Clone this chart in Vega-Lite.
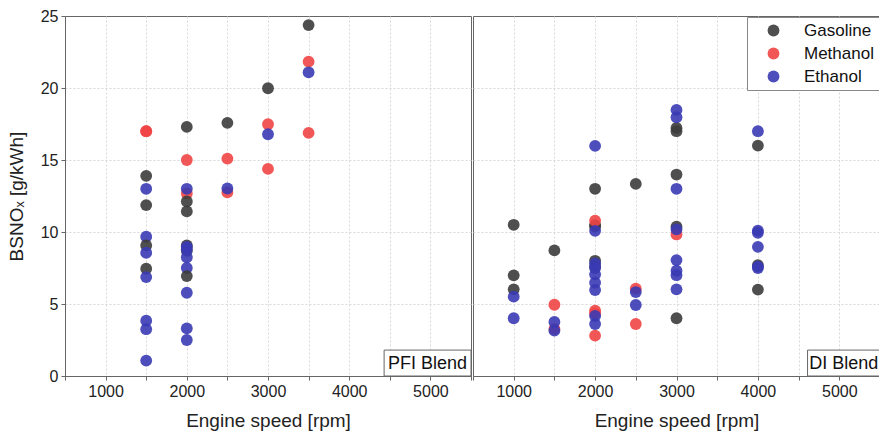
{
  "$schema": "https://vega.github.io/schema/vega-lite/v6.json",
  "padding": {"left": 6, "top": 7, "right": 1, "bottom": 0},
  "background": "white",
  "config": {
    "font": "Liberation Sans",
    "view": {"stroke": "#666", "strokeWidth": 1},
    "concat": {"spacing": 0},
    "axis": {
      "grid": true, "gridColor": "#d8d8d8", "gridDash": [2, 2], "gridWidth": 1,
      "gridOpacity": {"condition": {"test": "datum.value == 25 || datum.value == 500 || datum.value == 5500 || datum.value == 0", "value": 0}, "value": 1},
      "domainColor": "#666", "tickColor": "#666", "tickSize": 4,
      "labelFont": "Liberation Sans", "labelFontSize": 16, "labelColor": "#222",
      "titleFont": "Liberation Sans", "titleFontSize": 19, "titleFontWeight": "normal", "titleColor": "#222"
    }
  },
  "datasets": {
    "pfi": [
      {"rpm": 1500, "nox": 17.0, "fuel": "Methanol"},
      {"rpm": 1500, "nox": 17.0, "fuel": "Methanol"},
      {"rpm": 1500, "nox": 13.9, "fuel": "Gasoline"},
      {"rpm": 1500, "nox": 13.0, "fuel": "Ethanol"},
      {"rpm": 1500, "nox": 11.87, "fuel": "Gasoline"},
      {"rpm": 1500, "nox": 9.67, "fuel": "Ethanol"},
      {"rpm": 1500, "nox": 9.07, "fuel": "Gasoline"},
      {"rpm": 1500, "nox": 8.56, "fuel": "Ethanol"},
      {"rpm": 1500, "nox": 7.45, "fuel": "Gasoline"},
      {"rpm": 1500, "nox": 6.87, "fuel": "Ethanol"},
      {"rpm": 1500, "nox": 3.84, "fuel": "Ethanol"},
      {"rpm": 1500, "nox": 3.25, "fuel": "Ethanol"},
      {"rpm": 1500, "nox": 1.07, "fuel": "Ethanol"},
      {"rpm": 2000, "nox": 17.3, "fuel": "Gasoline"},
      {"rpm": 2000, "nox": 15.0, "fuel": "Methanol"},
      {"rpm": 2000, "nox": 12.68, "fuel": "Methanol"},
      {"rpm": 2000, "nox": 13.0, "fuel": "Ethanol"},
      {"rpm": 2000, "nox": 12.12, "fuel": "Gasoline"},
      {"rpm": 2000, "nox": 11.43, "fuel": "Gasoline"},
      {"rpm": 2000, "nox": 9.07, "fuel": "Gasoline"},
      {"rpm": 2000, "nox": 8.7, "fuel": "Gasoline"},
      {"rpm": 2000, "nox": 8.97, "fuel": "Ethanol"},
      {"rpm": 2000, "nox": 8.8, "fuel": "Ethanol"},
      {"rpm": 2000, "nox": 8.24, "fuel": "Ethanol"},
      {"rpm": 2000, "nox": 7.5, "fuel": "Ethanol"},
      {"rpm": 2000, "nox": 6.94, "fuel": "Gasoline"},
      {"rpm": 2000, "nox": 5.78, "fuel": "Ethanol"},
      {"rpm": 2000, "nox": 3.31, "fuel": "Ethanol"},
      {"rpm": 2000, "nox": 2.5, "fuel": "Ethanol"},
      {"rpm": 2500, "nox": 17.58, "fuel": "Gasoline"},
      {"rpm": 2500, "nox": 15.1, "fuel": "Methanol"},
      {"rpm": 2500, "nox": 12.75, "fuel": "Methanol"},
      {"rpm": 2500, "nox": 13.02, "fuel": "Ethanol"},
      {"rpm": 3000, "nox": 19.98, "fuel": "Gasoline"},
      {"rpm": 3000, "nox": 17.48, "fuel": "Methanol"},
      {"rpm": 3000, "nox": 14.38, "fuel": "Methanol"},
      {"rpm": 3000, "nox": 16.79, "fuel": "Ethanol"},
      {"rpm": 3500, "nox": 24.37, "fuel": "Gasoline"},
      {"rpm": 3500, "nox": 21.83, "fuel": "Methanol"},
      {"rpm": 3500, "nox": 16.88, "fuel": "Methanol"},
      {"rpm": 3500, "nox": 21.09, "fuel": "Ethanol"}
    ],
    "di": [
      {"rpm": 1000, "nox": 10.5, "fuel": "Gasoline"},
      {"rpm": 1000, "nox": 6.99, "fuel": "Gasoline"},
      {"rpm": 1000, "nox": 6.02, "fuel": "Gasoline"},
      {"rpm": 1000, "nox": 5.51, "fuel": "Ethanol"},
      {"rpm": 1000, "nox": 4.01, "fuel": "Ethanol"},
      {"rpm": 1500, "nox": 8.72, "fuel": "Gasoline"},
      {"rpm": 1500, "nox": 4.95, "fuel": "Methanol"},
      {"rpm": 1500, "nox": 3.27, "fuel": "Methanol"},
      {"rpm": 1500, "nox": 3.75, "fuel": "Ethanol"},
      {"rpm": 1500, "nox": 3.15, "fuel": "Ethanol"},
      {"rpm": 2000, "nox": 13.0, "fuel": "Gasoline"},
      {"rpm": 2000, "nox": 10.48, "fuel": "Gasoline"},
      {"rpm": 2000, "nox": 10.37, "fuel": "Gasoline"},
      {"rpm": 2000, "nox": 8.0, "fuel": "Gasoline"},
      {"rpm": 2000, "nox": 7.59, "fuel": "Gasoline"},
      {"rpm": 2000, "nox": 10.78, "fuel": "Methanol"},
      {"rpm": 2000, "nox": 4.54, "fuel": "Methanol"},
      {"rpm": 2000, "nox": 4.35, "fuel": "Methanol"},
      {"rpm": 2000, "nox": 2.8, "fuel": "Methanol"},
      {"rpm": 2000, "nox": 15.98, "fuel": "Ethanol"},
      {"rpm": 2000, "nox": 10.08, "fuel": "Ethanol"},
      {"rpm": 2000, "nox": 7.82, "fuel": "Ethanol"},
      {"rpm": 2000, "nox": 7.5, "fuel": "Ethanol"},
      {"rpm": 2000, "nox": 7.06, "fuel": "Ethanol"},
      {"rpm": 2000, "nox": 6.48, "fuel": "Ethanol"},
      {"rpm": 2000, "nox": 5.97, "fuel": "Ethanol"},
      {"rpm": 2000, "nox": 4.17, "fuel": "Ethanol"},
      {"rpm": 2000, "nox": 3.61, "fuel": "Ethanol"},
      {"rpm": 2500, "nox": 13.34, "fuel": "Gasoline"},
      {"rpm": 2500, "nox": 6.06, "fuel": "Methanol"},
      {"rpm": 2500, "nox": 3.61, "fuel": "Methanol"},
      {"rpm": 2500, "nox": 5.83, "fuel": "Ethanol"},
      {"rpm": 2500, "nox": 4.93, "fuel": "Ethanol"},
      {"rpm": 3000, "nox": 17.23, "fuel": "Gasoline"},
      {"rpm": 3000, "nox": 17.0, "fuel": "Gasoline"},
      {"rpm": 3000, "nox": 13.99, "fuel": "Gasoline"},
      {"rpm": 3000, "nox": 10.37, "fuel": "Gasoline"},
      {"rpm": 3000, "nox": 4.01, "fuel": "Gasoline"},
      {"rpm": 3000, "nox": 9.83, "fuel": "Methanol"},
      {"rpm": 3000, "nox": 18.48, "fuel": "Ethanol"},
      {"rpm": 3000, "nox": 17.97, "fuel": "Ethanol"},
      {"rpm": 3000, "nox": 13.0, "fuel": "Ethanol"},
      {"rpm": 3000, "nox": 10.18, "fuel": "Ethanol"},
      {"rpm": 3000, "nox": 8.05, "fuel": "Ethanol"},
      {"rpm": 3000, "nox": 7.31, "fuel": "Ethanol"},
      {"rpm": 3000, "nox": 7.0, "fuel": "Ethanol"},
      {"rpm": 3000, "nox": 6.02, "fuel": "Ethanol"},
      {"rpm": 4000, "nox": 16.0, "fuel": "Gasoline"},
      {"rpm": 4000, "nox": 7.7, "fuel": "Gasoline"},
      {"rpm": 4000, "nox": 6.0, "fuel": "Gasoline"},
      {"rpm": 4000, "nox": 17.0, "fuel": "Ethanol"},
      {"rpm": 4000, "nox": 10.1, "fuel": "Ethanol"},
      {"rpm": 4000, "nox": 9.95, "fuel": "Ethanol"},
      {"rpm": 4000, "nox": 8.97, "fuel": "Ethanol"},
      {"rpm": 4000, "nox": 7.6, "fuel": "Ethanol"},
      {"rpm": 4000, "nox": 7.5, "fuel": "Ethanol"}
    ]
  },
  "resolve": {"scale": {"y": "shared", "color": "shared"}, "legend": {"color": "independent"}},
  "hconcat": [
    {
      "width": 406,
      "height": 360,
      "layer": [
        {
          "data": {"name": "pfi"},
          "mark": {"type": "point", "filled": true, "size": 140, "opacity": 0.9},
          "encoding": {
            "x": {"field": "rpm", "type": "quantitative", "scale": {"domain": [500, 5500], "nice": false},
              "axis": {"title": "Engine speed [rpm]", "values": [500, 1000, 1500, 2000, 2500, 3000, 3500, 4000, 4500, 5000, 5500],
                "labelExpr": "datum.value % 1000 == 0 && datum.value > 500 && datum.value < 5500 ? datum.value : ''",
                "labelPadding": 3, "titlePadding": 12}},
            "y": {"field": "nox", "type": "quantitative", "scale": {"domain": [0, 25], "nice": false},
              "axis": {"title": "BSNOₓ  [g/kWh]", "values": [0, 2.5, 5, 7.5, 10, 12.5, 15, 17.5, 20, 22.5, 25],
                "labelExpr": "datum.value % 5 == 0 ? datum.value : ''", "labelPadding": 3, "titlePadding": 14}},
            "color": {"field": "fuel", "type": "nominal",
              "scale": {"domain": ["Gasoline", "Methanol", "Ethanol"], "range": ["#3c3c3c", "#f04545", "#3a3ab4"]},
              "legend": null}
          }
        },
        {
          "data": {"values": [{}]},
          "mark": {"type": "rect", "fill": "white", "stroke": "#666", "strokeWidth": 1},
          "encoding": {"x": {"datum": 4430}, "x2": {"datum": 5500}, "y": {"datum": 0}, "y2": {"datum": 1.8}}
        },
        {
          "data": {"values": [{}]},
          "mark": {"type": "text", "text": "PFI Blend", "fontSize": 18, "font": "Liberation Sans", "align": "center", "baseline": "middle", "color": "#111"},
          "encoding": {"x": {"datum": 4965}, "y": {"datum": 0.85}}
        }
      ]
    },
    {
      "width": 407,
      "height": 360,
      "layer": [
        {
          "data": {"name": "di"},
          "mark": {"type": "point", "filled": true, "size": 140, "opacity": 0.9},
          "encoding": {
            "x": {"field": "rpm", "type": "quantitative", "scale": {"domain": [500, 5500], "nice": false},
              "axis": {"title": "Engine speed [rpm]", "values": [500, 1000, 1500, 2000, 2500, 3000, 3500, 4000, 4500, 5000, 5500],
                "labelExpr": "datum.value % 1000 == 0 && datum.value > 500 && datum.value < 5500 ? datum.value : ''",
                "labelPadding": 3, "titlePadding": 12}},
            "y": {"field": "nox", "type": "quantitative", "scale": {"domain": [0, 25], "nice": false},
              "axis": {"title": null, "labels": false, "domain": false, "ticks": false,
                "values": [0, 2.5, 5, 7.5, 10, 12.5, 15, 17.5, 20, 22.5, 25]}},
            "color": {"field": "fuel", "type": "nominal",
              "scale": {"domain": ["Gasoline", "Methanol", "Ethanol"], "range": ["#3c3c3c", "#f04545", "#3a3ab4"]},
              "legend": {"title": null, "orient": "top-right", "offset": 1, "padding": 5, "strokeColor": "#888", "fillColor": "white",
                "symbolType": "circle", "symbolSize": 140, "symbolOpacity": 0.9, "symbolOffset": 13, "labelOffset": 22,
                "labelFontSize": 17, "labelFont": "Liberation Sans", "labelColor": "#111", "rowPadding": 5}}
          }
        },
        {
          "data": {"values": [{}]},
          "mark": {"type": "rect", "fill": "white", "stroke": "#666", "strokeWidth": 1},
          "encoding": {"x": {"datum": 4610}, "x2": {"datum": 5500}, "y": {"datum": 0}, "y2": {"datum": 1.8}}
        },
        {
          "data": {"values": [{}]},
          "mark": {"type": "text", "text": "DI Blend", "fontSize": 18, "font": "Liberation Sans", "align": "center", "baseline": "middle", "color": "#111"},
          "encoding": {"x": {"datum": 5055}, "y": {"datum": 0.85}}
        }
      ]
    }
  ]
}
